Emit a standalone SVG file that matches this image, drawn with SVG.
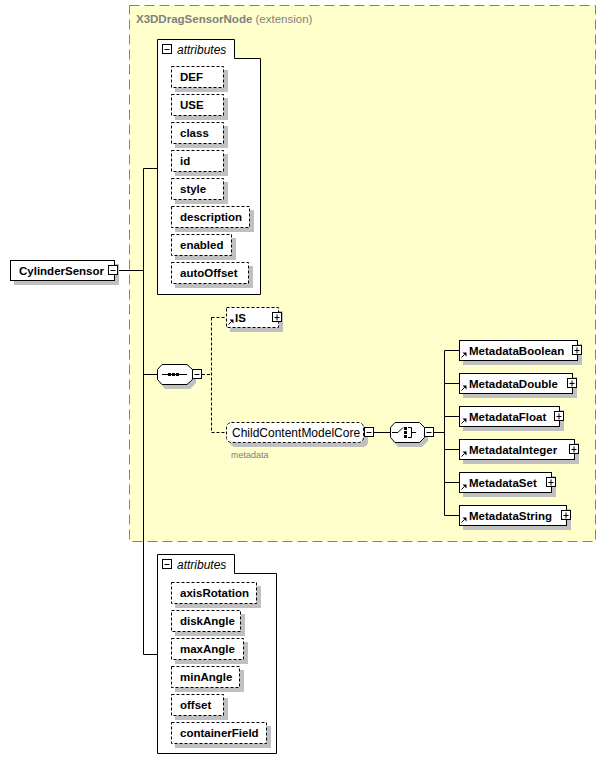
<svg xmlns="http://www.w3.org/2000/svg" width="606" height="773" viewBox="0 0 606 773">
<defs>
<style>
.t{font-family:"Liberation Sans",Arial,sans-serif;font-size:11.5px;font-weight:bold;fill:#000}
.n{font-family:"Liberation Sans",Arial,sans-serif;font-size:12px;fill:#000}
.it{font-family:"Liberation Sans",Arial,sans-serif;font-size:12px;font-style:italic;fill:#000}
.box{fill:#fff;stroke:#000;stroke-width:1}
.dbox{fill:#fff;stroke:#000;stroke-width:1;stroke-dasharray:3,2}
.sh{fill:#c0c0c0}
.ln{stroke:#000;stroke-width:1;fill:none}
.dl{stroke:#000;stroke-width:1;fill:none;stroke-dasharray:3,2}
.btn{fill:#fff;stroke:#000;stroke-width:1}
</style>
<g id="plus"><rect class="btn" x="0.5" y="0.5" width="9" height="9"/><path class="ln" d="M2.5,5.5H7.5M5,2.5V8.5"/></g>
<g id="minus"><rect class="btn" x="0.5" y="0.5" width="9" height="9"/><path class="ln" d="M2.5,5.5H7.5"/></g>
<g id="ref"><path class="ln" d="M1.5,6.5L4.5,3.5"/><path d="M2.5,1.5H6.5V5.5Z" fill="#000"/></g>
</defs>

<g id="extension">
<rect x="129.5" y="5.5" width="466" height="536" fill="#ffffcc" stroke="#808080" stroke-dasharray="10,5"/>
<text x="136" y="23" font-family="Liberation Sans,Arial,sans-serif" font-size="11.5" fill="#808080"><tspan font-weight="bold">X3DDragSensorNode</tspan> (extension)</text>
</g>

<g id="connectors">
<path class="ln" d="M118,270.5H143.5M143.5,168.5V654.5M143.5,168.5H157.5M143.5,374.5H157M143.5,654.5H157.5"/>
<path class="dl" d="M202,374.5H211.5M211.5,317.5V432.5M211.5,317.5H226.5M211.5,432.5H226.5"/>
<path class="ln" d="M374,432.5H390.5M434,432.5H444.5M444.5,350.5V515.5M444.5,350.5H459.5M444.5,383.5H459.5M444.5,416.5H459.5M444.5,449.5H459.5M444.5,482.5H459.5M444.5,515.5H459.5"/>
</g>

<g id="CylinderSensor">
<rect class="sh" x="14" y="264" width="105" height="21"/>
<rect class="box" x="10.5" y="260.5" width="104" height="20"/>
<text class="t" x="19" y="275">CylinderSensor</text>
<use href="#minus" x="108" y="265"/>
</g>

<g id="attributes1">
<path class="box" d="M157.5,39.5H234.5V58.5H260.5V294.5H157.5Z"/>
<use href="#minus" x="162" y="44"/>
<text class="it" x="177" y="54">attributes</text>
</g>
<g id="attr-DEF"><rect class="sh" x="175" y="70" width="53" height="22"/><rect class="dbox" x="171.5" y="66.5" width="52" height="21"/><text class="t" x="180" y="81">DEF</text></g>
<g id="attr-USE"><rect class="sh" x="175" y="98" width="53" height="22"/><rect class="dbox" x="171.5" y="94.5" width="52" height="21"/><text class="t" x="180" y="109">USE</text></g>
<g id="attr-class"><rect class="sh" x="175" y="126" width="53" height="22"/><rect class="dbox" x="171.5" y="122.5" width="52" height="21"/><text class="t" x="180" y="137">class</text></g>
<g id="attr-id"><rect class="sh" x="175" y="154" width="53" height="22"/><rect class="dbox" x="171.5" y="150.5" width="52" height="21"/><text class="t" x="180" y="165">id</text></g>
<g id="attr-style"><rect class="sh" x="175" y="182" width="53" height="22"/><rect class="dbox" x="171.5" y="178.5" width="52" height="21"/><text class="t" x="180" y="193">style</text></g>
<g id="attr-description"><rect class="sh" x="175" y="210" width="79" height="22"/><rect class="dbox" x="171.5" y="206.5" width="78" height="21"/><text class="t" x="180" y="221">description</text></g>
<g id="attr-enabled"><rect class="sh" x="175" y="238" width="61" height="22"/><rect class="dbox" x="171.5" y="234.5" width="60" height="21"/><text class="t" x="180" y="249">enabled</text></g>
<g id="attr-autoOffset"><rect class="sh" x="175" y="266" width="78" height="22"/><rect class="dbox" x="171.5" y="262.5" width="77" height="21"/><text class="t" x="180" y="277">autoOffset</text></g>

<g id="sequence">
<path class="sh" d="M165,368H190L196,373V383L190,389H165L160,383V373Z"/>
<path class="box" d="M162,364.5H187L192.5,369.5V379.5L187,384.5H162L157.5,379.5V369.5Z"/>
<path class="ln" d="M162,374.5H187"/>
<rect x="168" y="373" width="3" height="3"/><rect x="172" y="373" width="3" height="3"/><rect x="176" y="373" width="3" height="3"/>
<use href="#minus" x="192" y="369"/>
</g>

<g id="IS">
<rect class="sh" x="230" y="311" width="53" height="21"/>
<rect class="dbox" x="226.5" y="307.5" width="52" height="20"/>
<use href="#ref" x="227" y="318"/>
<text class="t" x="235" y="322">IS</text>
<use href="#plus" x="272" y="312"/>
</g>

<g id="ChildContentModelCore">
<rect class="sh" x="230" y="426" width="138" height="21" rx="5"/>
<rect class="dbox" x="226.5" y="422.5" width="137" height="20" rx="5"/>
<text class="n" x="232" y="437">ChildContentModelCore</text>
<use href="#minus" x="364" y="427"/>
<text x="231" y="458" font-family="Liberation Sans,Arial,sans-serif" font-size="9" fill="#808080">metadata</text>
</g>

<g id="choice">
<path class="sh" d="M398,426H422L428,431V441L422,447H398L393,441V431Z"/>
<path class="box" d="M395,422.5H419.5L424.5,427.5V437.5L419.5,442.5H395L390.5,437.5V427.5Z"/>
<path class="ln" d="M392,432.5H398L403,427.5"/>
<rect x="404" y="427" width="3" height="3"/><rect x="404" y="431" width="3" height="3"/><rect x="404" y="435" width="3" height="3"/>
<path class="ln" d="M408,427.5H411.5V437.5H408M411.5,432.5H416"/>
<use href="#minus" x="424" y="427"/>
</g>

<g id="MetadataBoolean"><rect class="sh" x="463" y="344" width="119" height="21"/><rect class="box" x="459.5" y="340.5" width="118" height="20"/><use href="#ref" x="460" y="351"/><text class="t" x="469" y="355">MetadataBoolean</text><use href="#plus" x="572" y="345"/></g>
<g id="MetadataDouble"><rect class="sh" x="463" y="377" width="114" height="21"/><rect class="box" x="459.5" y="373.5" width="113" height="20"/><use href="#ref" x="460" y="384"/><text class="t" x="469" y="388">MetadataDouble</text><use href="#plus" x="567" y="378"/></g>
<g id="MetadataFloat"><rect class="sh" x="463" y="410" width="101" height="21"/><rect class="box" x="459.5" y="406.5" width="100" height="20"/><use href="#ref" x="460" y="417"/><text class="t" x="469" y="421">MetadataFloat</text><use href="#plus" x="554" y="411"/></g>
<g id="MetadataInteger"><rect class="sh" x="463" y="443" width="116" height="21"/><rect class="box" x="459.5" y="439.5" width="115" height="20"/><use href="#ref" x="460" y="450"/><text class="t" x="469" y="454">MetadataInteger</text><use href="#plus" x="569" y="444"/></g>
<g id="MetadataSet"><rect class="sh" x="463" y="476" width="93" height="21"/><rect class="box" x="459.5" y="472.5" width="92" height="20"/><use href="#ref" x="460" y="483"/><text class="t" x="469" y="487">MetadataSet</text><use href="#plus" x="546" y="477"/></g>
<g id="MetadataString"><rect class="sh" x="463" y="509" width="108" height="21"/><rect class="box" x="459.5" y="505.5" width="107" height="20"/><use href="#ref" x="460" y="516"/><text class="t" x="469" y="520">MetadataString</text><use href="#plus" x="561" y="510"/></g>

<g id="attributes2">
<path class="box" d="M157.5,554.5H234.5V573.5H276.5V753.5H157.5Z"/>
<use href="#minus" x="162" y="559"/>
<text class="it" x="177" y="569">attributes</text>
</g>
<g id="attr-axisRotation"><rect class="sh" x="175" y="586" width="86" height="22"/><rect class="dbox" x="171.5" y="582.5" width="85" height="21"/><text class="t" x="180" y="597">axisRotation</text></g>
<g id="attr-diskAngle"><rect class="sh" x="175" y="614" width="70" height="22"/><rect class="dbox" x="171.5" y="610.5" width="69" height="21"/><text class="t" x="180" y="625">diskAngle</text></g>
<g id="attr-maxAngle"><rect class="sh" x="175" y="642" width="73" height="22"/><rect class="dbox" x="171.5" y="638.5" width="72" height="21"/><text class="t" x="180" y="653">maxAngle</text></g>
<g id="attr-minAngle"><rect class="sh" x="175" y="670" width="69" height="22"/><rect class="dbox" x="171.5" y="666.5" width="68" height="21"/><text class="t" x="180" y="681">minAngle</text></g>
<g id="attr-offset"><rect class="sh" x="175" y="698" width="53" height="22"/><rect class="dbox" x="171.5" y="694.5" width="52" height="21"/><text class="t" x="180" y="709">offset</text></g>
<g id="attr-containerField"><rect class="sh" x="175" y="726" width="96" height="22"/><rect class="dbox" x="171.5" y="722.5" width="95" height="21"/><text class="t" x="180" y="737">containerField</text></g>
</svg>
